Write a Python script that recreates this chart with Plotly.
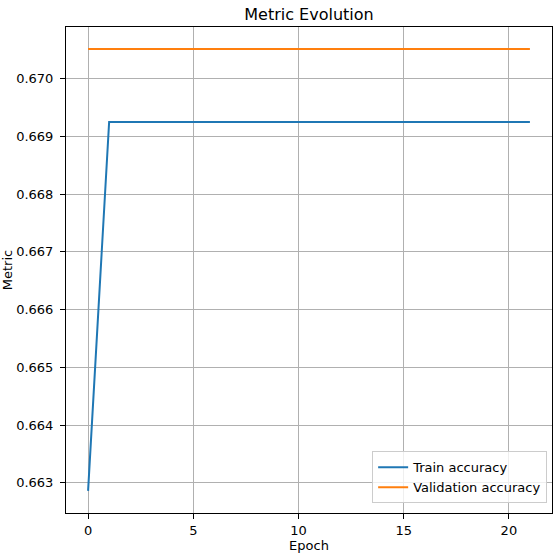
import plotly.graph_objects as go

epochs = list(range(22))
train_accuracy = [0.66286] + [0.66925] * 21
val_accuracy = [0.67051] * 22

x_ticks = [0, 5, 10, 15, 20]
y_ticks = [0.663, 0.664, 0.665, 0.666, 0.667, 0.668, 0.669, 0.670]

font = "DejaVu Sans, Arial, sans-serif"

fig = go.Figure()
fig.add_trace(go.Scatter(x=epochs, y=train_accuracy, mode="lines", name="Train accuracy",
                         line={"color": "#1f77b4", "width": 2}))
fig.add_trace(go.Scatter(x=epochs, y=val_accuracy, mode="lines", name="Validation accuracy",
                         line={"color": "#ff7f0e", "width": 2}))

axis_common = dict(
    showline=True, linecolor="black", linewidth=1, mirror=True,
    ticks="outside", ticklen=5, tickcolor="black", tickwidth=1,
    showgrid=True, gridcolor="#b0b0b0", gridwidth=1, zeroline=False,
    automargin=False,
    tickfont={"size": 13, "color": "black", "family": font},
)

fig.update_xaxes(
    range=[-1.05, 22.05], tickvals=x_ticks,
    title={"text": "Epoch", "font": {"size": 13, "color": "black", "family": font}, "standoff": 3},
    **axis_common,
)
fig.update_yaxes(
    range=[0.662477, 0.670893], tickvals=y_ticks, tickformat=".3f",
    ticklabelstandoff=4,
    title={"text": "Metric", "font": {"size": 13, "color": "black", "family": font}, "standoff": 4},
    **axis_common,
)

fig.update_layout(
    width=560, height=558,
    paper_bgcolor="white", plot_bgcolor="white",
    margin={"l": 66, "r": 8, "t": 27, "b": 45},
    title={"text": "Metric Evolution", "xref": "paper", "x": 0.5, "xanchor": "center",
           "yref": "container", "y": 0.975, "yanchor": "middle",
           "font": {"size": 16, "color": "black", "family": font}},
    legend={"x": 0.99, "y": 0.02, "xanchor": "right", "yanchor": "bottom",
            "bgcolor": "rgba(255,255,255,0.8)", "bordercolor": "#cccccc", "borderwidth": 1,
            "tracegroupgap": 0, "itemwidth": 30,
            "font": {"size": 13, "color": "black", "family": font}},
    showlegend=True,
)

fig.write_html("out.html", config={"displayModeBar": False},
               post_script="document.body.style.margin='0';")
